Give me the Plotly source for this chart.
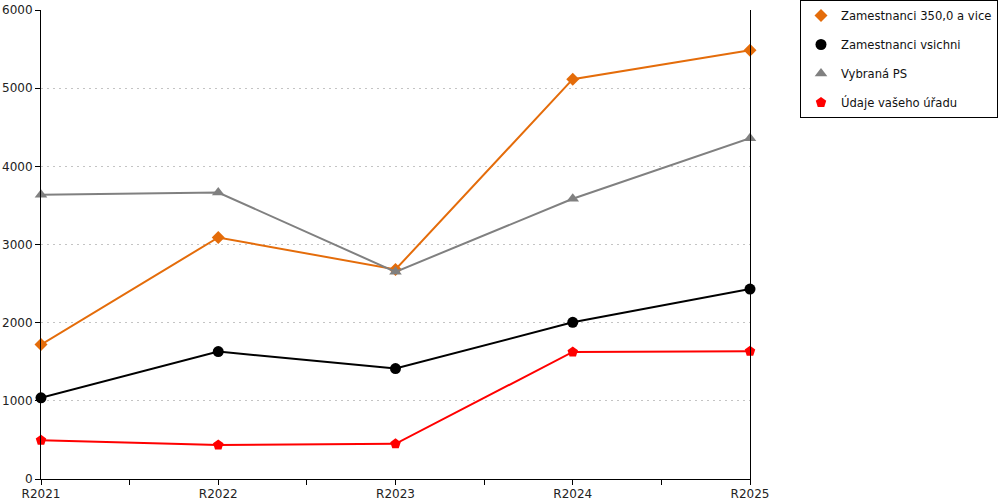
import plotly.graph_objects as go

# categories (years)
years = ["R2021", "R2022", "R2023", "R2024", "R2025"]

# series values
zam_350 = [1720, 3090, 2680, 5115, 5485]
zam_all = [1038, 1630, 1413, 2005, 2430]
vybrana_ps = [3635, 3665, 2650, 3585, 4360]
udaje_uradu = [495, 435, 450, 1625, 1635]

series = [
    ("Zamestnanci 350,0 a vice", zam_350, "#E46C0A", "diamond", 10),
    ("Zamestnanci vsichni", zam_all, "#000000", "circle", 11),
    ("Vybraná PS", vybrana_ps, "#808080", "triangle-up", 11),
    ("Údaje vašeho úřadu", udaje_uradu, "#FF0000", "pentagon", 11),
]

x_pos = list(range(len(years)))

fig = go.Figure()
for name, vals, color, symbol, size in series:
    # line part, not in legend
    fig.add_trace(
        go.Scatter(
            x=x_pos, y=vals, mode="lines",
            line=dict(color=color, width=2),
            showlegend=False, legendgroup=name, hoverinfo="skip",
            cliponaxis=False,
        )
    )
    # markers (legend shows only the symbol)
    fig.add_trace(
        go.Scatter(
            x=x_pos, y=vals, name=name, mode="markers",
            marker=dict(color=color, symbol=symbol, size=size),
            legendgroup=name, cliponaxis=False,
        )
    )

fig.update_layout(
    width=1000,
    height=500,
    margin=dict(l=41, r=250, t=10, b=21, autoexpand=False),
    paper_bgcolor="white",
    plot_bgcolor="white",
    font=dict(family="DejaVu Sans", size=12, color="#222222"),
    legend=dict(
        x=(800 - 41) / 709,
        y=1 + 10 / 469,
        xanchor="left",
        yanchor="top",
        bordercolor="black",
        borderwidth=1,
        font=dict(size=11.6, color="#111111"),
        tracegroupgap=10,
        traceorder="grouped",
    ),
)
fig.update_xaxes(
    range=[0, len(years) - 1],
    tickvals=x_pos,
    ticktext=years,
    automargin=False,
    showgrid=False,
    zeroline=False,
    showline=True,
    linecolor="black",
    linewidth=1,
    ticks="outside",
    ticklen=5,
    tickcolor="black",
    ticklabelstandoff=-1,
    minor=dict(ticks="outside", dtick=0.5, tick0=0, ticklen=5,
               tickcolor="black", showgrid=False),
)
fig.update_yaxes(
    range=[0, 6000],
    dtick=1000,
    automargin=False,
    showgrid=True,
    gridcolor="#c4c4c4",
    griddash="2px,4px",
    zeroline=False,
    showline=True,
    mirror=True,
    linecolor="black",
    linewidth=1,
    ticks="outside",
    ticklen=5,
    tickcolor="black",
)

# drop the default page margin so the chart sits at the window corner
fig.write_html("out.html",
               config={"displayModeBar": False},
               post_script="document.body.style.margin='0px';"
                           "document.body.style.overflow='hidden';")
